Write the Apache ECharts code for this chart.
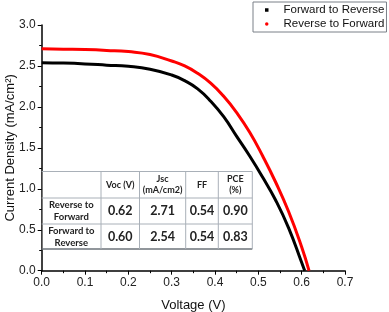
<!DOCTYPE html>
<html><head><meta charset="utf-8">
<script src="https://cdn.jsdelivr.net/npm/echarts@6/dist/echarts.min.js"></script>
<style>html,body{margin:0;padding:0;background:#fff}#c{width:389px;height:312px}</style>
</head><body><div id="c"></div>
<script>
var seriesNames = ['Forward to Reverse', 'Reverse to Forward'];
var fwdV = [0, 0.05, 0.1, 0.15, 0.2, 0.25, 0.3, 0.33, 0.36, 0.39, 0.42, 0.45, 0.48, 0.51, 0.54, 0.57, 0.60, 0.607];
var fwdJ = [2.54, 2.535, 2.525, 2.51, 2.495, 2.46, 2.39, 2.32, 2.22, 2.07, 1.88, 1.64, 1.40, 1.14, 0.86, 0.52, 0.10, 0];
var revV = [0, 0.05, 0.1, 0.15, 0.2, 0.25, 0.3, 0.33, 0.36, 0.39, 0.42, 0.45, 0.48, 0.51, 0.54, 0.57, 0.60, 0.617];
var revJ = [2.71, 2.705, 2.70, 2.69, 2.675, 2.64, 2.56, 2.50, 2.41, 2.29, 2.13, 1.93, 1.69, 1.40, 1.08, 0.72, 0.29, 0];
var tableHeader = ['', 'Voc (V)', 'Jsc\n(mA/cm2)', 'FF', 'PCE\n(%)'];
var tableRowLabels = ['Reverse to\nForward', 'Forward to\nReverse'];
var tableValues = [['0.62', '2.71', '0.54', '0.90'], ['0.60', '2.54', '0.54', '0.83']];

function pairs(xs, ys) { return xs.map(function (x, i) { return [x, ys[i]]; }); }

var colX = [41.7, 101, 139.5, 185.7, 218.3, 252.3];
var rowY = [171.5, 198, 224, 249];
var graphics = [];
graphics.push({type: 'rect', shape: {x: colX[0] + 1, y: rowY[0], width: colX[5] - colX[0] - 1, height: rowY[3] - rowY[0]}, style: {fill: '#fff'}, z: 10});
for (var i = 0; i < rowY.length; i++) {
  graphics.push({type: 'line', shape: {x1: colX[0], y1: rowY[i], x2: colX[5], y2: rowY[i]}, style: {stroke: i === 3 ? '#6d737a' : '#a9b0b8', lineWidth: i === 3 ? 1.5 : 1}, z: 11});
}
for (var j = 1; j < colX.length; j++) {
  graphics.push({type: 'line', shape: {x1: colX[j], y1: rowY[0], x2: colX[j], y2: rowY[3]}, style: {stroke: '#a9b0b8', lineWidth: 1}, z: 11});
}
function cellText(txt, c, r, size, lh) {
  graphics.push({type: 'text', x: (colX[c] + colX[c + 1]) / 2, y: (rowY[r] + rowY[r + 1]) / 2,
    style: {text: txt, fill: '#222', font: 'bold ' + size + 'px Lato, "Open Sans", sans-serif', align: 'center', verticalAlign: 'middle', lineHeight: lh}, z: 12});
}
for (var c = 1; c < tableHeader.length; c++) cellText(tableHeader[c], c, 0, 9, 11);
for (var r = 0; r < tableRowLabels.length; r++) {
  cellText(tableRowLabels[r], 0, r + 1, 9.5, 12);
  for (var k = 0; k < tableValues[r].length; k++) cellText(tableValues[r][k], k + 1, r + 1, 12.5, 14);
}

var chart = echarts.init(document.getElementById('c'));
var axisCommon = {
  axisLine: {show: true, lineStyle: {color: '#000', width: 1.5}},
  axisTick: {show: true, inside: false, length: 4, lineStyle: {color: '#000', width: 1}},
  minorTick: {show: true, splitNumber: 2, length: 2.5, lineStyle: {color: '#000', width: 1}},
  splitLine: {show: false},
  axisLabel: {color: '#222', fontSize: 12, margin: 6, fontFamily: 'Liberation Sans, Arial, sans-serif', formatter: function (v) { return v.toFixed(1); }},
  nameMoveOverlap: false,
  nameTextStyle: {color: '#111', fontSize: 13, fontFamily: 'Liberation Sans, Arial, sans-serif'}
};
chart.setOption({
  animation: false,
  grid: {left: 41.7, right: 44, top: 25, bottom: 41.3, containLabel: false, outerBoundsMode: 'none'},
  legend: {
    orient: 'vertical', left: 253, top: 2,
    data: [{name: seriesNames[0], icon: 'rect'}, {name: seriesNames[1], icon: 'circle'}],
    itemWidth: 3.5, itemHeight: 3.5, itemGap: 0,
    padding: [1, 2, 1, 12],
    backgroundColor: '#fff', borderColor: '#7a8088', borderWidth: 1, borderRadius: 0,
    textStyle: {color: '#111', fontSize: 11.5, fontFamily: 'Liberation Sans, Arial, sans-serif', lineHeight: 14, padding: [0, 0, 0, 10]}
  },
  xAxis: Object.assign({}, axisCommon, {type: 'value', min: 0, max: 0.7, interval: 0.1, name: 'Voltage (V)', nameLocation: 'middle', nameGap: 28}),
  yAxis: Object.assign({}, axisCommon, {type: 'value', min: 0, max: 3.0, interval: 0.5, name: 'Current Density (mA/cm²)', nameLocation: 'middle', nameGap: 25}),
  series: [
    {name: seriesNames[0], type: 'line', smooth: 0.5, showSymbol: false, data: pairs(fwdV, fwdJ), itemStyle: {color: '#000'}, lineStyle: {color: '#000', width: 3}, z: 3},
    {name: seriesNames[1], type: 'line', smooth: 0.5, showSymbol: false, data: pairs(revV, revJ), itemStyle: {color: '#ff0000'}, lineStyle: {color: '#ff0000', width: 3}, z: 2}
  ],
  graphic: graphics
});
</script></body></html>
